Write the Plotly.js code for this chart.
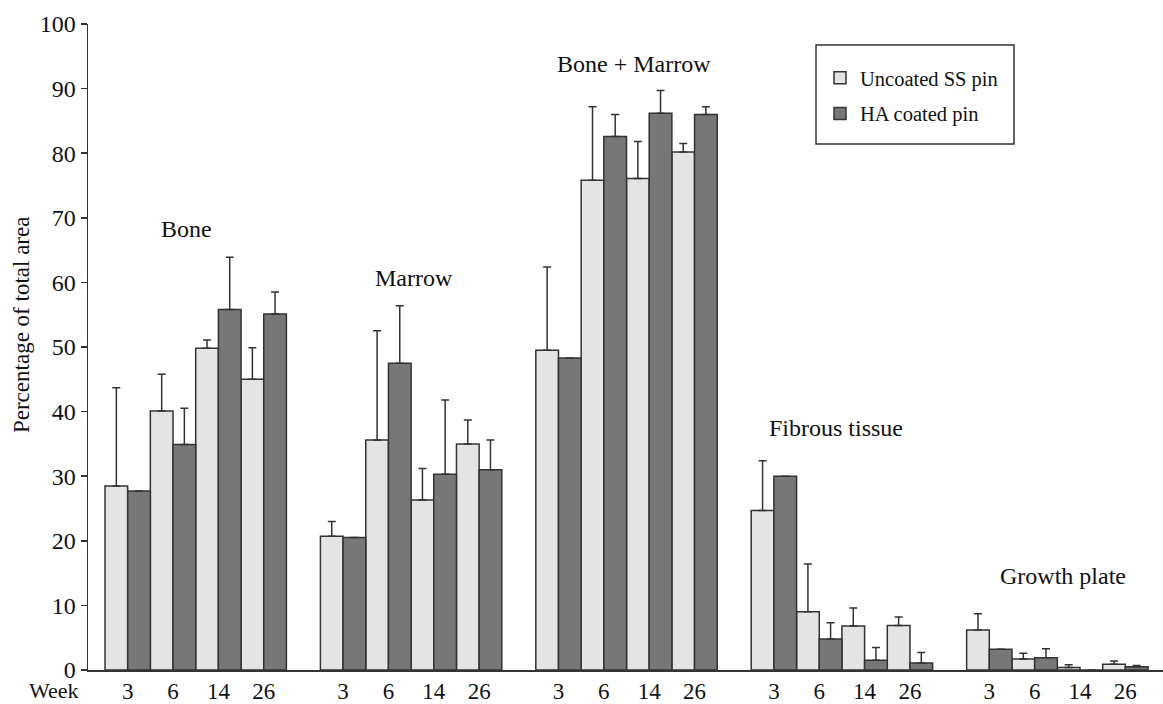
<!DOCTYPE html>
<html>
<head>
<meta charset="utf-8">
<script src="https://cdn.plot.ly/plotly-3.0.1.min.js"></script>
<style>
  html, body { margin: 0; padding: 0; background: #fff; }
  #chart { width: 1163px; height: 704px; }
</style>
</head>
<body>
<div id="chart"></div>
<script>
// ---- Data ----
const groups = ['Bone', 'Marrow', 'Bone + Marrow', 'Fibrous tissue', 'Growth plate'];
const weeks = ['3', '6', '14', '26'];
const seriesNames = ['Uncoated SS pin', 'HA coated pin'];

// values ordered group by group, week 3, 6, 14, 26
const uncoatedMean = [28.5, 40.1, 49.8, 45.0,  20.7, 35.6, 26.3, 35.0,  49.5, 75.8, 76.1, 80.2,  24.7, 9.0, 6.8, 6.9,  6.2, 1.7, 0.4, 0.9];
const uncoatedSD   = [15.2,  5.7,  1.3,  4.9,   2.3, 16.9,  4.9,  3.7,  12.9, 11.4,  5.7,  1.3,   7.7, 7.4, 2.8, 1.3,  2.5, 0.9, 0.4, 0.5];
const haMean       = [27.7, 34.9, 55.8, 55.1,  20.5, 47.5, 30.3, 31.0,  48.3, 82.6, 86.2, 86.0,  30.0, 4.8, 1.5, 1.1,  3.2, 1.9, 0.0, 0.5];
const haSD         = [ 0.0,  5.6,  8.1,  3.4,   0.0,  8.9, 11.5,  4.6,   0.0,  3.4,  3.5,  1.2,   0.0, 2.5, 2.0, 1.6,  0.0, 1.4, 0.0, 0.2];

// ---- Layout geometry ----
const FIG_W = 1163, FIG_H = 704;
const M = { l: 88, r: 0, t: 24, b: 34 };
const PW = FIG_W - M.l - M.r, PH = FIG_H - M.t - M.b;
const GROUP_STEP = 4.75;           // group period in slot units (4 week slots + gap)
const px2x = px => (px - M.l) / PW;        // pixel -> paper x
const py2y = py => 1 - (py - M.t) / PH;    // pixel -> paper y

const xPos = [], tickText = [];
groups.forEach((g, gi) => weeks.forEach((w, wi) => {
  xPos.push(gi * GROUP_STEP + wi);
  tickText.push(w);
}));

const FONT = '"Liberation Serif", "Times New Roman", Times, serif';
const LINE = '#333333';

function barTrace(name, y, err, fill, grp) {
  return {
    type: 'bar', name: name, x: xPos, y: y,
    legendgroup: grp,
    marker: { color: fill, line: { color: LINE, width: 1.5 } },
    error_y: { type: 'data', array: err, arrayminus: err.map(() => 0), symmetric: false,
               color: LINE, thickness: 1.5, width: 4 },
    hoverinfo: 'x+y+name'
  };
}

const traces = [
  barTrace(seriesNames[0], uncoatedMean, uncoatedSD, '#e4e4e4', 'a'),
  barTrace(seriesNames[1], haMean, haSD, '#777777', 'b')
];

// group label placement (data coords)
const groupLabelX = [1.29, 6.31, 11.17, 15.62, 20.62];
const groupLabelY = [68.3, 60.7, 93.8, 37.5, 14.6];

const annotations = groups.map((g, i) => ({
  text: g, x: groupLabelX[i], y: groupLabelY[i], xref: 'x', yref: 'y',
  showarrow: false, xanchor: 'center', yanchor: 'middle',
  font: { family: FONT, size: 24, color: '#111' }
}));
annotations.push({
  text: 'Week', xref: 'paper', yref: 'paper', x: px2x(54), y: py2y(690),
  showarrow: false, xanchor: 'center', yanchor: 'middle',
  font: { family: FONT, size: 22, color: '#111' }
});
annotations.push({
  text: 'Percentage of total area', xref: 'paper', yref: 'y', x: px2x(21), y: 53.4,
  textangle: -90, showarrow: false, xanchor: 'center', yanchor: 'middle',
  font: { family: FONT, size: 23, color: '#111' }
});

const layout = {
  width: FIG_W, height: FIG_H,
  margin: M,
  paper_bgcolor: '#fff', plot_bgcolor: '#fff',
  font: { family: FONT, size: 22, color: '#111' },
  barmode: 'group', bargap: 0, bargroupgap: 0,
  showlegend: true,
  legend: {
    x: px2x(820), y: py2y(58), xanchor: 'left', yanchor: 'top',
    bgcolor: 'rgba(0,0,0,0)', borderwidth: 0,
    font: { family: FONT, size: 20.5, color: '#111' },
    traceorder: 'grouped', tracegroupgap: 6
  },
  xaxis: {
    range: [-0.875, 22.83], showgrid: false, zeroline: false,
    showline: true, linecolor: LINE, linewidth: 1.5,
    tickmode: 'array', tickvals: xPos, ticktext: tickText, ticks: '',
    tickfont: { family: FONT, size: 23, color: '#111' },
    fixedrange: true
  },
  yaxis: {
    range: [0, 100], dtick: 10, tick0: 0, showgrid: false, zeroline: false,
    showline: true, linecolor: LINE, linewidth: 1.5,
    ticks: 'outside', ticklen: 6, tickwidth: 1.5, tickcolor: LINE,
    tickfont: { family: FONT, size: 24, color: '#111' },
    fixedrange: true
  },
  shapes: [{
    type: 'rect', xref: 'paper', yref: 'paper',
    x0: px2x(816), x1: px2x(1014), y0: py2y(144), y1: py2y(45),
    line: { color: LINE, width: 1.5 }, fillcolor: 'rgba(0,0,0,0)'
  }],
  annotations: annotations
};

Plotly.newPlot('chart', traces, layout, { displayModeBar: false, staticPlot: true });
</script>
</body>
</html>
